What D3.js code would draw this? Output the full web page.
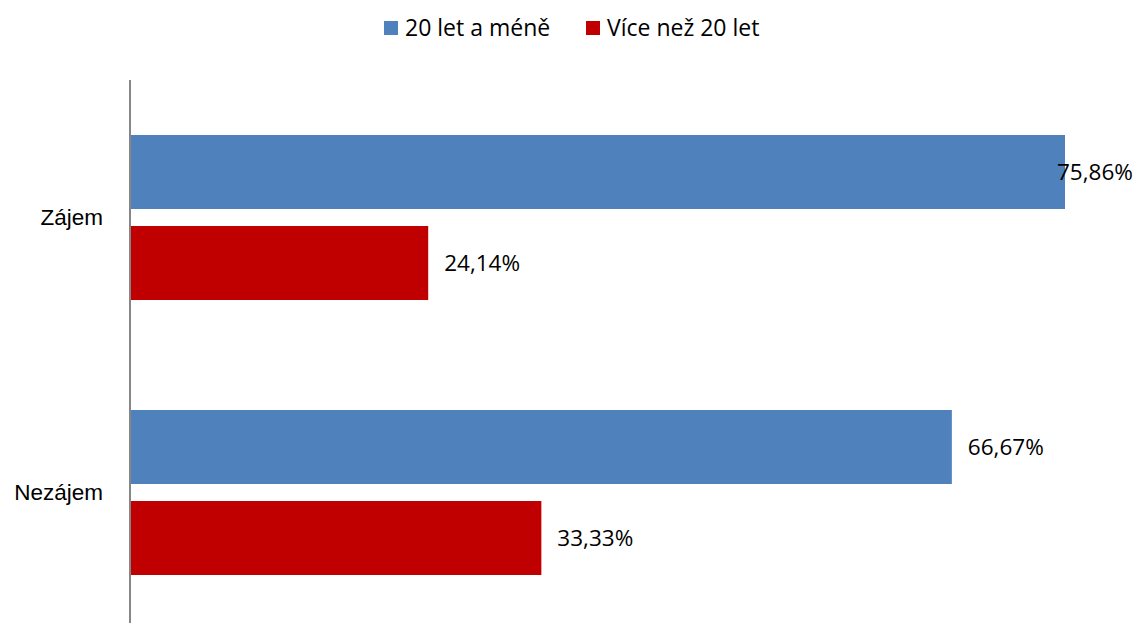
<!DOCTYPE html>
<html>
<head>
<meta charset="utf-8">
<script src="https://d3js.org/d3.v7.min.js"></script>
<style>
  body { margin: 0; background: #fff; }
  svg { display: block; font-family: "Open Sans", "Liberation Sans", sans-serif; }
</style>
</head>
<body>
<svg id="chart" width="1138" height="623"></svg>
<script>
const categories = ["Zájem", "Nezájem"];
const seriesNames = ["20 let a méně", "Více než 20 let"];
const seriesColors = ["#4f81bd", "#c00000"];
const young = [75.86, 66.67];
const older = [24.14, 33.33];

const width = 1138, height = 623;
const margin = {top: 80, left: 130, right: 73};
const svg = d3.select("#chart");

const data = categories.map((c, i) => ({cat: c, values: [young[i], older[i]]}));

const y = d3.scaleBand().domain(categories).range([margin.top, margin.top + 550]);
const inner = d3.scaleBand().domain([0, 1]).range([y.bandwidth() * 0.2, y.bandwidth() * 0.8]).paddingInner(0.187);
const x = d3.scaleLinear().domain([0, 75.86]).range([margin.left + 1, 1065]);

const fmt = v => v.toFixed(2).replace(".", ",") + "%";

const g = svg.selectAll("g.cat").data(data).join("g")
  .attr("transform", d => `translate(0,${y(d.cat)})`);

g.selectAll("rect").data(d => d.values).join("rect")
  .attr("x", x(0))
  .attr("y", (v, i) => inner(i))
  .attr("width", v => x(v) - x(0))
  .attr("height", inner.bandwidth())
  .attr("fill", (v, i) => seriesColors[i]);

g.selectAll("text.val").data(d => d.values).join("text")
  .attr("class", "val")
  .attr("x", v => Math.min(x(v) + 16, 1057))
  .attr("y", (v, i) => inner(i) + inner.bandwidth() / 2)
  .attr("dy", "0.36em")
  .attr("font-size", 22.5)
  .attr("fill", "#000")
  .text(fmt);

// category axis
svg.append("g")
  .attr("transform", `translate(${margin.left},0)`)
  .call(d3.axisLeft(y).tickSize(0).tickPadding(27))
  .call(g => g.select(".domain").remove())
  .call(g => g.selectAll("text").attr("font-size", 22.5).attr("fill", "#000")
      .attr("font-family", null));

svg.append("line")
  .attr("x1", margin.left).attr("x2", margin.left)
  .attr("y1", margin.top).attr("y2", height)
  .attr("stroke", "#868686").attr("stroke-width", 2);

// legend
const legendX = [384, 586];
const legend = svg.append("g").selectAll("g").data(seriesNames).join("g")
  .attr("transform", (d, i) => `translate(${legendX[i]},21)`);
legend.append("rect").attr("width", 14).attr("height", 14)
  .attr("fill", (d, i) => seriesColors[i]);
legend.append("text").attr("x", 21).attr("y", 7).attr("dy", "0.36em")
  .attr("font-size", 23).attr("fill", "#000").text(d => d);
</script>
</body>
</html>
